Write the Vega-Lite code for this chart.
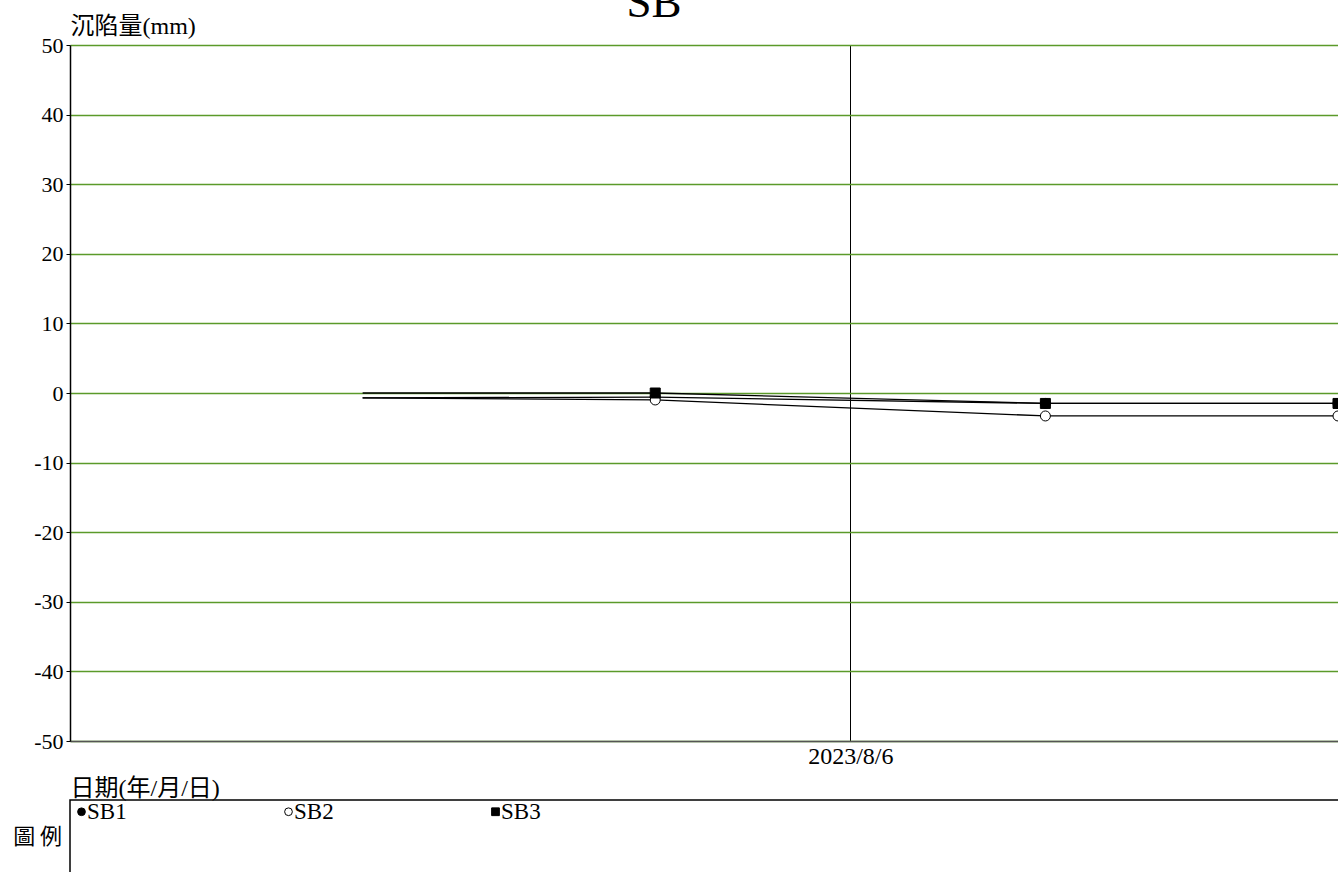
{
  "$schema": "https://vega.github.io/schema/vega-lite/v6.json",
  "autosize": {"type": "pad"},
  "padding": {"left": 12, "top": -19, "right": -4, "bottom": -10},
  "background": "white",
  "bounds": "flush",
  "spacing": 59,
  "resolve": {"scale": {"shape": "independent", "fill": "independent", "stroke": "independent"}, "legend": {"shape": "independent", "fill": "independent", "stroke": "independent"}},
  "config": {
    "view": {"stroke": null},
    "font": "Liberation Serif, Noto Sans CJK TC",
    "axis": {"labelFont": "Liberation Serif", "labelFontSize": 22, "labelColor": "black", "titleFont": "Liberation Serif, Noto Sans CJK TC", "titleFontSize": 24, "titleFontWeight": "normal", "titleColor": "black"}
  },
  "vconcat": [
    {
      "width": 1268,
      "height": 696,
      "title": {"text": "SB", "fontSize": 45, "font": "Liberation Serif", "fontWeight": "normal", "color": "black", "anchor": "middle", "dx": -50, "baseline": "alphabetic", "offset": -48},
      "data": {
        "values": [
          {"date": "2023/08/01", "series": "SB1", "value": -0.7},
          {"date": "2023/08/04", "series": "SB1", "value": -0.6},
          {"date": "2023/08/08", "series": "SB1", "value": -1.5},
          {"date": "2023/08/11", "series": "SB1", "value": -1.5},
          {"date": "2023/08/01", "series": "SB2", "value": -0.7},
          {"date": "2023/08/04", "series": "SB2", "value": -1.0},
          {"date": "2023/08/08", "series": "SB2", "value": -3.3},
          {"date": "2023/08/11", "series": "SB2", "value": -3.3},
          {"date": "2023/08/01", "series": "SB3", "value": 0.0},
          {"date": "2023/08/04", "series": "SB3", "value": 0.0},
          {"date": "2023/08/08", "series": "SB3", "value": -1.5},
          {"date": "2023/08/11", "series": "SB3", "value": -1.5}
        ]
      },
      "encoding": {
        "x": {
          "field": "date", "type": "temporal",
          "scale": {"domain": [{"year": 2023, "month": 7, "date": 29}, {"year": 2023, "month": 8, "date": 11}]},
          "axis": {
            "values": [{"year": 2023, "month": 8, "date": 6}],
            "format": "%Y/%-m/%-d",
            "ticks": false,
            "labelFontSize": 24,
            "labelPadding": 3,
            "grid": true, "gridColor": "black", "gridWidth": 1,
            "domainColor": "#555555", "domainWidth": 1.5,
            "title": "日期(年/月/日)",
            "titleX": 0, "titleY": 54, "titleAlign": "left", "titleBaseline": "alphabetic", "titleAnchor": "start"
          }
        },
        "y": {
          "field": "value", "type": "quantitative",
          "scale": {"domain": [-50, 50], "nice": false, "zero": false},
          "axis": {
            "values": [-50, -40, -30, -20, -10, 0, 10, 20, 30, 40, 50],
            "labelExpr": "'' + datum.value",
            "tickSize": 4, "tickColor": "black", "domainColor": "black", "domainWidth": 1.5,
            "labelPadding": 3,
            "grid": true, "gridColor": "#5b9a2a", "gridWidth": 1.5,
            "title": "沉陷量(mm)", "titleAngle": 0, "titleX": 0, "titleY": -12, "titleAlign": "left", "titleBaseline": "alphabetic"
          }
        }
      },
      "layer": [
        {
          "mark": {"type": "line", "color": "black", "strokeWidth": 1.3, "clip": true},
          "encoding": {"detail": {"field": "series", "type": "nominal"}}
        },
        {
          "transform": [{"filter": {"field": "date", "gt": {"year": 2023, "month": 8, "date": 1}}}],
          "mark": {"type": "point", "size": 100, "stroke": "black", "strokeWidth": 1, "opacity": 1, "filled": false, "clip": true},
          "encoding": {
            "shape": {"field": "series", "type": "nominal", "scale": {"domain": ["SB1", "SB2", "SB3"], "range": ["circle", "circle", "square"]}, "legend": null},
            "fill": {"field": "series", "type": "nominal", "scale": {"domain": ["SB1", "SB2", "SB3"], "range": ["black", "white", "black"]}, "legend": null}
          }
        }
      ]
    },
    {
      "width": 1272,
      "height": 82,
      "view": {"stroke": "black", "strokeWidth": 1.5},
      "title": {"text": "圖 例", "orient": "left", "angle": 0, "anchor": "middle", "fontSize": 22, "font": "Noto Sans CJK TC", "fontWeight": "normal", "color": "black", "offset": -41, "align": "right", "baseline": "middle", "dy": -4},
      "data": {"values": [{"series": "SB1"}, {"series": "SB2"}, {"series": "SB3"}]},
      "mark": {"type": "point", "opacity": 0, "filled": false, "strokeWidth": 1},
      "encoding": {
        "stroke": {"field": "series", "type": "nominal", "scale": {"domain": ["SB1", "SB2", "SB3"], "range": ["black", "black", "black"]}},
        "shape": {"field": "series", "type": "nominal", "scale": {"domain": ["SB1", "SB2", "SB3"], "range": ["circle", "circle", "square"]},
          "legend": {"orient": "top-left", "offset": 0, "direction": "horizontal", "title": null, "symbolSize": 60, "symbolOpacity": 1, "symbolStrokeWidth": 1, "labelFont": "Liberation Serif", "labelFontSize": 23, "labelColor": "black", "labelOffset": -6, "columnPadding": 150, "padding": 0}},
        "fill": {"field": "series", "type": "nominal", "scale": {"domain": ["SB1", "SB2", "SB3"], "range": ["black", "white", "black"]}}
      }
    }
  ]
}
